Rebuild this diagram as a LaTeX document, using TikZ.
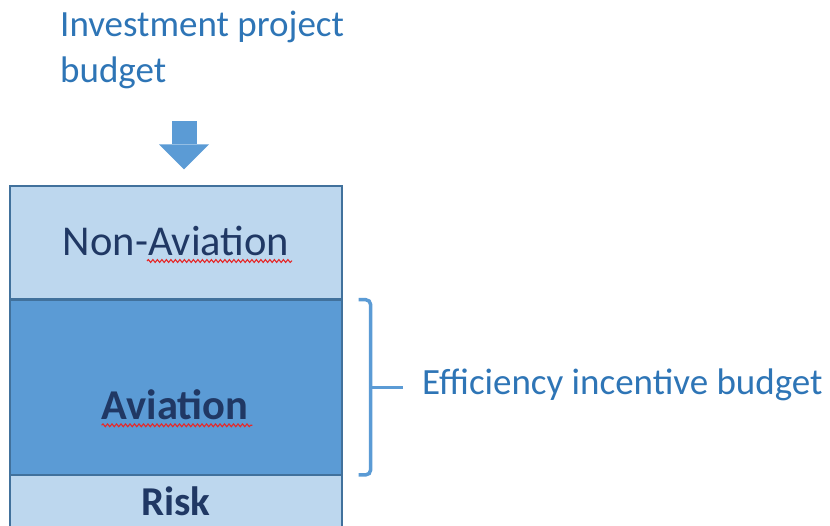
\documentclass[tikz,border=0pt]{standalone}
\usepackage{fontspec}
\setmainfont{Carlito}
\usetikzlibrary{
  positioning,
  calc,
  arrows.meta,
  decorations.pathmorphing}
\definecolor{boxlight}{RGB}{189,215,238}
\definecolor{boxdark}{RGB}{91,155,213}
\definecolor{boxline}{RGB}{65,113,156}
\definecolor{captionblue}{RGB}{46,117,182}
\definecolor{navy}{RGB}{32,56,100}
\definecolor{spellred}{RGB}{230,40,40}

\begin{document}
\begin{tikzpicture}[
  x=1pt, y=-1pt,
  section/.style={draw=boxline, line width=1.3pt, minimum width=332pt, inner sep=0pt},
  inside/.style={text=navy, inner sep=0pt, anchor=base, font=\fontsize{42.5}{50}\selectfont},
  caption/.style={text=captionblue, inner sep=0pt, font=\fontsize{37}{46}\selectfont},
  brace/.style={draw=boxdark, line width=3.5pt, rounded corners=5pt},
  bigarrow/.style={draw=boxdark, line width=25pt,
    -{Triangle[length=25pt, width=50pt, line width=0pt]}},
  squiggle/.style={draw=spellred, line width=1.1pt,
    decorate, decoration={snake, amplitude=1.4pt, segment length=4.5pt}}
]%
  \useasboundingbox (0,0) rectangle (830,526);

  % Stacked budget
  \node[section, fill=boxlight, minimum height=113pt] (nonavi) at (176,242.5) {};
  \node[section, fill=boxdark, minimum height=174pt, below=0pt of nonavi] (avi) {};
  \node[section, fill=boxlight, minimum height=60pt, below=0pt of avi] (risk) {};

  \node[inside] (nonavitxt) at ($(nonavi.center)+(0,13.5)$) {Non-Aviation};
  \node[inside, font=\fontsize{42.5}{50}\selectfont\bfseries] (avitxt) at ($(avi.center)+(-1,32)$) {Aviation};
  \node[inside, font=\fontsize{41}{50}\selectfont\bfseries] (risktxt) at ($(risk.center)+(0,10)$) {Risk};

  % Spelling marks
  \draw[squiggle] ($(nonavitxt.base)+(-29,5)$) -- ($(nonavitxt.base)+(116,5)$);
  \draw[squiggle] ($(avitxt.base west)+(0,6)$) -- ($(avitxt.base east)+(4,6)$);

  % Heading and arrow
  \node[caption, anchor=base west, align=left] (budget) at (60,83) {Investment project\\budget};
  \draw[bigarrow] ($(nonavi.north)+(8,-64)$) -- ($(nonavi.north)+(8,-16)$);

  % Bracket
  \coordinate (bracemid) at ($(avi.east)+(28,0)$);
  \draw[brace]
    ($(avi.north east)+(16,0)$) -- ++(12,0) -- ($(avi.south east)+(28,0)$) -- ++(-12,0);
  \node[caption, anchor=base west] (effic) at (422,395) {Efficiency incentive budget};
  \draw[brace, shorten >=19pt] (bracemid) -- (effic.west |- bracemid);
\end{tikzpicture}
\end{document}
